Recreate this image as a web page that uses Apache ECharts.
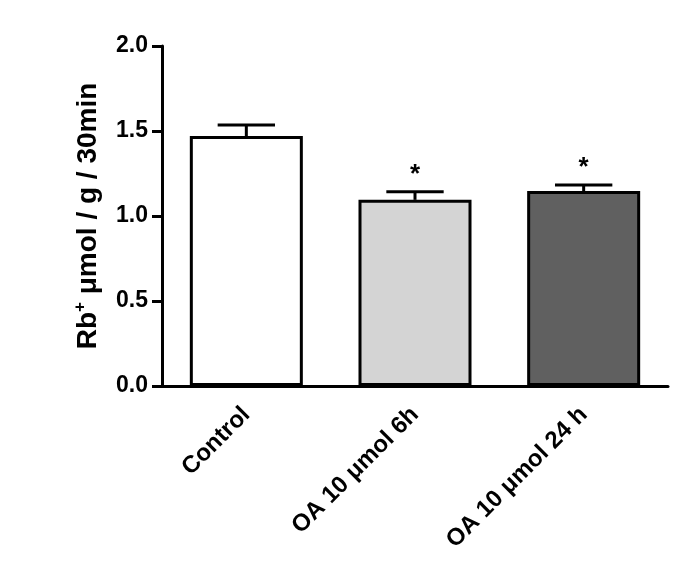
<!DOCTYPE html>
<html><head><meta charset="utf-8">
<script src="https://cdn.jsdelivr.net/npm/echarts@6/dist/echarts.min.js"></script>
<style>html,body{margin:0;padding:0;background:#fff}#c{width:685px;height:588px}</style>
</head><body><div id="c"></div>
<script>
const categories = ['Control', 'OA 10 μmol 6h', 'OA 10 μmol 24 h'];
const means = [1.47, 1.095, 1.147];
const errors = [0.065, 0.048, 0.035];
const significance = ['', '*', '*'];
const barColors = ['#ffffff', '#d4d4d4', '#606060'];
const yTicks = [0, 0.5, 1.0, 1.5, 2.0];

const chart = echarts.init(document.getElementById('c'));
const font = 'Arial, "Liberation Sans", sans-serif';
chart.setOption({
  animation: false,
  grid: {left: 162, right: 17, top: 46, bottom: 202},
  xAxis: {
    type: 'category', data: categories,
    axisLine: {lineStyle: {color: '#000', width: 3}},
    axisTick: {alignWithLabel: true, length: 9, lineStyle: {color: '#000', width: 3}},
    axisLabel: {rotate: 45, color: '#000', fontWeight: 'bold', fontSize: 24, fontFamily: font, margin: 25}
  },
  yAxis: {
    type: 'value', min: 0, max: 2, interval: 0.5,
    axisLine: {show: true, lineStyle: {color: '#000', width: 3}},
    axisTick: {show: true, length: 10, lineStyle: {color: '#000', width: 3}},
    splitLine: {show: false},
    axisLabel: {color: '#000', fontWeight: 'bold', fontSize: 23, fontFamily: font, margin: 14,
      formatter: v => yTicks.includes(v) ? v.toFixed(1) : ''},
    name: '{a|Rb}{s|+}{a| μmol / g / 30min}',
    nameLocation: 'middle', nameGap: 58,
    nameTextStyle: {rich: {
      a: {fontSize: 28, fontWeight: 'bold', fontFamily: font, color: '#000'},
      s: {fontSize: 17, fontWeight: 'bold', fontFamily: font, color: '#000', verticalAlign: 'top', padding: [0,0,15,0]}
    }}
  },
  series: [{
    type: 'bar', barWidth: '67%',
    data: means.map((v, i) => ({value: v, itemStyle: {color: barColors[i]}})),
    itemStyle: {borderColor: '#000', borderWidth: 3}
  }, {
    type: 'custom',
    data: means.map((v, i) => [i, v, errors[i]]),
    renderItem: function (params, api) {
      const i = api.value(0), m = api.value(1), e = api.value(2);
      const p0 = api.coord([i, m]);
      const p1 = api.coord([i, m + e]);
      const half = api.size([1, 0])[0] * 0.17;
      const children = [
        {type: 'line', shape: {x1: p0[0], y1: p0[1], x2: p1[0], y2: p1[1]}, style: {stroke: '#000', lineWidth: 3}},
        {type: 'line', shape: {x1: p1[0] - half, y1: p1[1], x2: p1[0] + half, y2: p1[1]}, style: {stroke: '#000', lineWidth: 3}}
      ];
      if (significance[i]) {
        children.push({type: 'text', x: p1[0], y: p1[1] - 4,
          style: {text: significance[i], fill: '#000', font: 'bold 26px ' + font, textAlign: 'center', textVerticalAlign: 'bottom'}});
      }
      return {type: 'group', children: children};
    },
    z: 10
  }]
});
</script></body></html>
